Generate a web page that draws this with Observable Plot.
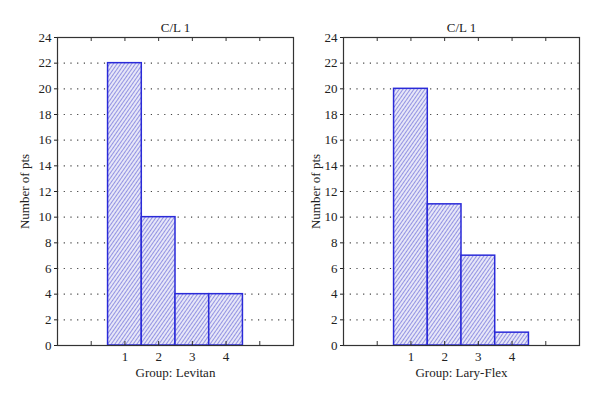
<!DOCTYPE html>
<html>
<head>
<meta charset="utf-8">
<script src="https://cdn.jsdelivr.net/npm/d3@7"></script>
<script src="https://cdn.jsdelivr.net/npm/@observablehq/plot@0.6"></script>
<style>
  html, body { margin: 0; padding: 0; background: #fff; }
  #wrap { display: flex; width: 600px; height: 403px; }
  svg, svg text { font-family: "Liberation Serif", "DejaVu Serif", serif !important; }
</style>
</head>
<body>
<div id="wrap"></div>
<script>
const groups = [1, 2, 3, 4];
const levitan = [22, 10, 4, 4];
const laryFlex = [20, 11, 7, 1];
const chartTitle = "C/L 1";
const yLabel = "Number of pts";
const xLabels = ["Group: Levitan", "Group: Lary-Flex"];
const yTicks = d3.range(0, 25, 2);
const xTicks = [0, 1, 2, 3, 4, 5];
const serif = "Liberation Serif, DejaVu Serif, serif";

function chart(values, xlabel, id, marginLeft, marginRight, yLabelOffset) {
  const data = groups.map((g, i) => ({g, n: values[i]}));
  const W = 300, H = 403, mt = 37, mb = 58;
  const innerH = H - mt - mb;
  const svg = Plot.plot({
    width: W, height: H,
    marginTop: mt, marginBottom: mb, marginLeft, marginRight,
    style: {fontFamily: serif, fontSize: "13px", color: "#222", background: "transparent"},
    x: {domain: [-1, 6]},
    y: {domain: [0, 24]},
    marks: [
      Plot.gridY(yTicks.filter(d => d > 0 && d < 24), {stroke: "#444", strokeOpacity: 1, strokeDasharray: "1.2,5.5", strokeWidth: 1.1}),
      Plot.rectY(data, {x1: d => d.g - 0.5, x2: d => d.g + 0.5, y: "n", fill: `url(#${id})`, stroke: "#2a2ad8", strokeWidth: 1.5}),
      Plot.tickX(xTicks, {x: d => d, insetTop: innerH - 4, stroke: "#333"}),
      Plot.tickX(xTicks, {x: d => d, insetBottom: innerH - 4, stroke: "#333"}),
      Plot.axisY({ticks: yTicks, tickSize: 3, tickPadding: 3, label: yLabel, labelAnchor: "center", labelOffset: yLabelOffset, labelArrow: "none", fontSize: 13, fontFamily: serif}),
      Plot.axisX({ticks: xTicks, tickSize: 0, tickPadding: 6, tickFormat: d => (d >= 1 && d <= 4 ? String(d) : ""), label: xlabel, labelAnchor: "center", labelOffset: 31, labelArrow: "none", fontSize: 13, fontFamily: serif}),
      Plot.frame({stroke: "#333", strokeWidth: 1.2}),
      Plot.text([chartTitle], {frameAnchor: "top", lineAnchor: "middle", dy: -10, text: d => d, fontSize: 13, fontFamily: serif, fill: "#222"})
    ]
  });
  const ns = "http://www.w3.org/2000/svg";
  const defs = document.createElementNS(ns, "defs");
  const pat = document.createElementNS(ns, "pattern");
  pat.setAttribute("id", id);
  pat.setAttribute("patternUnits", "userSpaceOnUse");
  pat.setAttribute("width", "3");
  pat.setAttribute("height", "3");
  pat.setAttribute("patternTransform", "rotate(35)");
  const bg = document.createElementNS(ns, "rect");
  bg.setAttribute("width", "3"); bg.setAttribute("height", "3"); bg.setAttribute("fill", "#e6e6f8");
  const ln = document.createElementNS(ns, "line");
  ln.setAttribute("x1", "0.5"); ln.setAttribute("y1", "0"); ln.setAttribute("x2", "0.5"); ln.setAttribute("y2", "3");
  ln.setAttribute("stroke", "#8a8ae0"); ln.setAttribute("stroke-width", "0.9");
  pat.appendChild(bg); pat.appendChild(ln);
  defs.appendChild(pat);
  svg.insertBefore(defs, svg.firstChild);
  return svg;
}

const wrap = document.getElementById("wrap");
wrap.appendChild(chart(levitan, xLabels[0], "hatchA", 57, 7, 38));
wrap.appendChild(chart(laryFlex, xLabels[1], "hatchB", 43, 21, 33));
</script>
</body>
</html>
